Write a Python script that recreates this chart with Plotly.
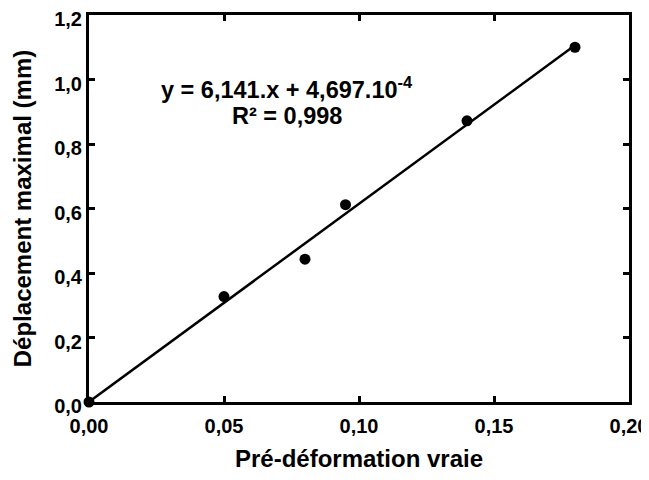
import plotly.graph_objects as go

strain = [0.0, 0.05, 0.08, 0.095, 0.14, 0.18]
displacement = [0.0, 0.327, 0.443, 0.612, 0.872, 1.100]
slope = 6.141
intercept = 4.697e-4
fit_x = [0.0, 0.18]
fit_y = [slope * v + intercept for v in fit_x]

FONT = "Liberation Sans"

fig = go.Figure()
fig.add_trace(go.Scatter(x=fit_x, y=fit_y, mode="lines",
                         line=dict(color="black", width=2.5), showlegend=False, cliponaxis=False))
fig.add_trace(go.Scatter(x=strain, y=displacement, mode="markers",
                         marker=dict(color="black", size=11), showlegend=False, cliponaxis=False))

axis_common = dict(showline=True, linecolor="black", linewidth=3, mirror="ticks",
                   ticks="inside", ticklen=6, tickwidth=3, tickcolor="black",
                   showgrid=False, zeroline=False, automargin=False,
                   ticklabeloverflow="allow",
                   tickfont=dict(family=FONT, size=20, color="black", weight="bold"))

fig.update_xaxes(range=[0, 0.2], tickvals=[0, 0.05, 0.1, 0.15, 0.2], tickformat=".2f",
                 ticklabelstandoff=4,
                 title=dict(text="<b>Pré-déformation vraie</b>", font=dict(family=FONT, size=24, color="black"), standoff=22),
                 **axis_common)
fig.update_yaxes(range=[0, 1.2], tickvals=[0, 0.2, 0.4, 0.6, 0.8, 1.0, 1.2], tickformat=".1f",
                 ticklabelshift=4,
                 title=dict(text="<b>Déplacement maximal (mm)</b>", font=dict(family=FONT, size=24, color="black"), standoff=16),
                 **axis_common)

fig.add_annotation(x=0.0733, y=0.974, xref="x", yref="y",
                   text="<b>y = 6,141.x + 4,697.10<sup>-4</sup></b>",
                   showarrow=False, align="center", yanchor="middle",
                   font=dict(family=FONT, size=23.5, color="black"))
fig.add_annotation(x=0.0733, y=0.887, xref="x", yref="y",
                   text="<b>R² = 0,998</b>",
                   showarrow=False, align="center", yanchor="middle",
                   font=dict(family=FONT, size=23.5, color="black"))

fig.update_layout(width=641, height=464, margin=dict(l=81, r=20, t=7, b=70),
                  plot_bgcolor="white", paper_bgcolor="white", separators=", ")

fig.write_html("out.html")
